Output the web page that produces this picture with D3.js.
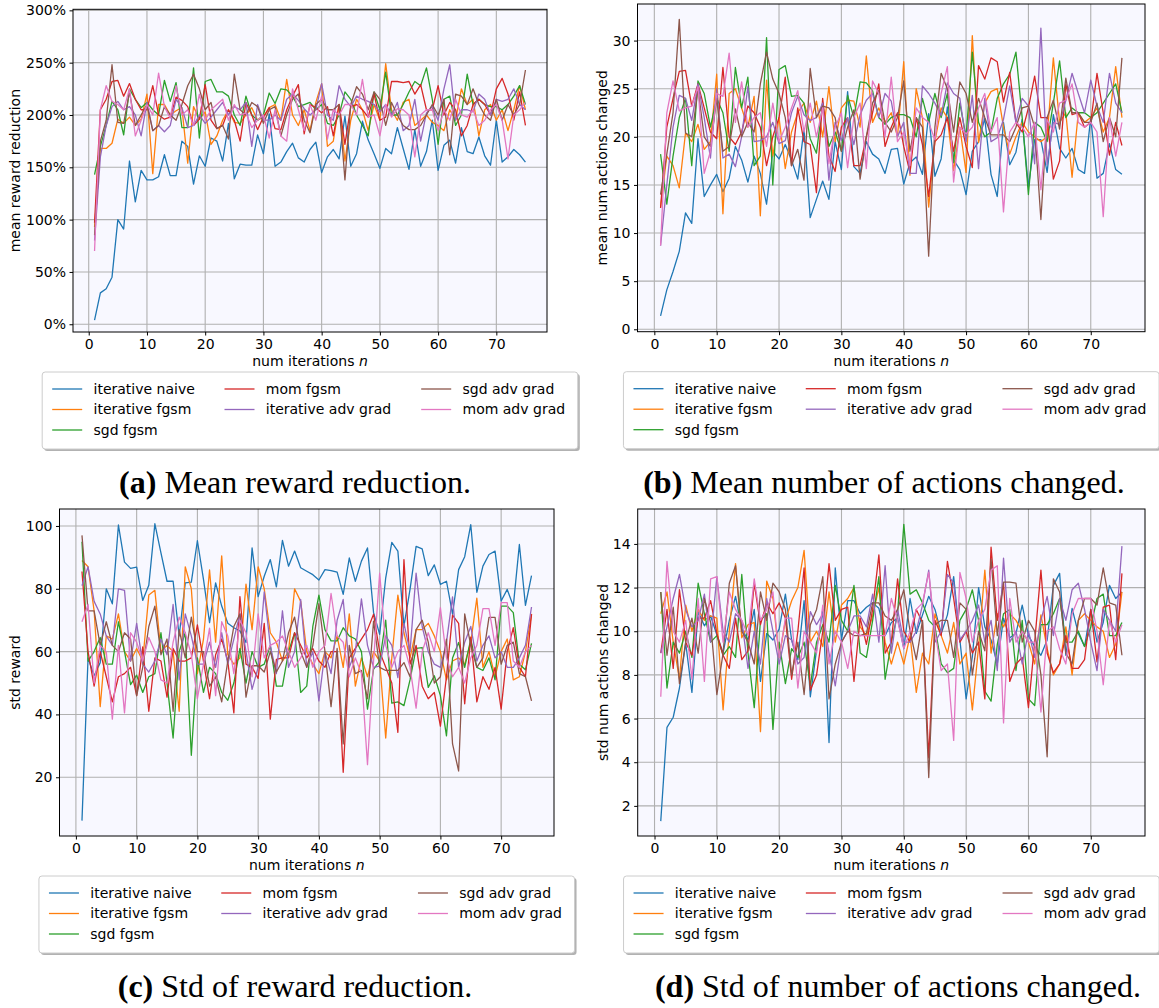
<!DOCTYPE html>
<html>
<head>
<meta charset="utf-8">
<script src="https://cdn.jsdelivr.net/npm/d3@7"></script>
<style>
  body { margin: 0; background: #fff; }
  text { font-family: "DejaVu Sans", sans-serif; }
</style>
</head>
<body>
<div id="chart"></div>
<script>
var width = 1159, height = 1008;

var seriesNames = ["iterative naive", "iterative fgsm", "sgd fgsm", "mom fgsm",
                   "iterative adv grad", "sgd adv grad", "mom adv grad"];
var colors = ["#1f77b4", "#ff7f0e", "#2ca02c", "#d62728", "#9467bd", "#8c564b", "#e377c2"];
var iters = d3.range(1, 76);
var xTicks = [0, 10, 20, 30, 40, 50, 60, 70];

// (a) mean reward reduction, in %
var meanNaive = [4,30,34,45,100,91,156,117,147,138,138,141,162,142,142,175,170,134,161,151,178,175,156,192,139,153,152,152,181,163,201,151,155,165,173,159,155,167,174,145,160,167,158,199,151,163,194,176,163,149,168,163,188,168,148,186,151,165,195,147,171,176,154,188,165,163,179,161,152,195,155,160,167,162,155];
var meanFgsm = [93,168,168,173,196,192,198,190,196,220, 144,210,210,200,204,207,154,208,196,203, 172,180,195,205,193,192,200,207,195,198, 207,210,195,234,200,190,205,185,212,230, 170,175,210,156,195,215,205,185,210,195, 249,205,195,212,215,190,195,200,193,190, 185,205,195,225,210,215,180,205,210,195, 205,185,205,228,205];
var meanSgdFgsm = [143,170,190,213,205,181,225,215,207,212, 205,200,233,213,231,188,188,245,178,232, 234,222,222,218,200,190,218,200,195,200, 221,211,225,224,218,208,210,212,205,210, 192,190,200,222,215,200,190,180,222,205, 241,200,200,210,222,232,228,245,215,172, 215,218,190,200,239,210,215,210,208,208, 205,210,218,228,210];
var meanMomFgsm = [97,205,215,232,233,218,230,215,205,205, 228,200,196,198,217,214,208,190,196,229, 195,187,190,205,195,175,212,200,186,198, 207,187,186,205,218,229,182,210,207,202, 208,180,210,172,208,210,205,198,220,195, 198,232,232,231,232,220,229,205,205,228, 200,212,205,180,190,210,215,210,200,225, 235,220,195,222,190];
var meanItAdv = [80,160,190,208,213,205,208,200,180,212, 185,190,184,190,215,207,188,190,200,192, 198,205,212,200,208,205,212,170,210,195, 195,200,195,215,220,214,206,200,205,230, 200,195,228,215,208,218,215,213,210,203, 210,200,212,185,190,215,175,202,208,195, 225,248,195,205,205,203,220,215,200,215, 213,215,225,210,205];
var meanSgdAdv = [85,175,195,248,193,192,222,190,200,210, 185,190,208,200,195,210,228,239,225,205, 212,187,190,177,239,205,200,212,208,192, 205,208,180,200,215,220,195,183,210,215, 205,205,210,138,210,227,220,205,222,215, 190,212,200,190,186,186,190,200,210,200, 215,162,220,218,210,225,210,200,195,215, 195,210,200,210,243];
var meanMomAdv = [70,205,228,213,210,205,225,180,195,210, 200,240,208,197,228,200,205,190,220,195, 205,210,215,195,210,200,202,188,195,200, 178,205,180,175,225,205,185,210,195,218, 177,205,200,210,210,200,234,198,200,180, 210,198,206,205,200,160,200,205,205,185, 205,195,215,200,198,205,190,195,205,210, 195,158,200,205,212];

// (b) mean number of actions changed
var actNaive = [1.4,4.1,6.0,8.1,12.1,11.0,19.8,13.8,15.0,16.1,14.3,15.7,19.0,17.6,15.3,18.0,16.2,13.0,18.5,17.7,19.2,17.6,15.6,20.8,11.6,13.5,15.4,13.5,19.5,16.6,24.7,16.9,16.2,19.5,18.2,17.7,16.2,18.7,18.8,15.1,17.3,17.9,16.1,22.4,15.9,17.7,23.1,17.6,16.6,14.0,18.5,19.5,21.9,16.1,13.8,21.5,17.1,18.4,21.8,14.8,19.7,19.7,16.3,22.3,18.8,17.8,18.8,16.6,16.2,22.0,15.7,16.2,19.3,16.6,16.1];
var actFgsm = [12.7,18,17,14.7,20.4,19.5,21.3,18.7,19.5,26.5, 12,24.5,25,23,21,24.2,11.8,25.9,18,22, 16.7,20.5,22.5,23.5,21.5,23.7,20,25.2,19.5,23, 23.8,23.7,21,28.4,21.5,23,21.5,22.5,20,27.8, 16,25,22,12.7,19.5,23,22,16.5,21,16.3, 30.5,19.4,23.5,24.7,25,21,18.2,20,21.5,20.5, 20,19.5,20,28.2,21.5,22.5,15.8,22.5,21.5,22, 23,20.5,22,27.3,22];
var actSgdFgsm = [18.2,13.0,18,22,24,17,25.8,24.5,21,24, 22.5,18.5,27.2,23,26.2,17,18,30.3,15,27, 27.4,24.2,24.3,23.5,19.8,18.3,23.5,19,20.5,18.5, 24.3,22,25.7,25.6,24.8,22,21.3,22,22.3,22.3, 22,20,24,21.5,24.5,22,24.5,17.3,23.5,20, 28.8,21.5,20,20.5,24,25.5,26.5,28.8,22,14, 21.5,21,19.5,23.5,27.9,22,23,22.5,22.5,22, 22.5,23.5,24.5,25.5,22.5];
var actMomFgsm = [12.6,21,24,26.8,26.9,23.2,25.5,23,20.5,19.8, 27.2,20,19.2,20.5,23.2,22.5,21,17,20,22, 26.2,17,23,19.5,19.2,14.2,24,18,16.4,21, 22,17,17,20,22.5,25.5,19,21,22.5,19, 16.3,22,19.2,13.8,19.5,20.2,22,18.5,22,19, 16.8,27.4,26,28.2,27.8,23.6,26.7,21.5,20.5,23, 26.3,22,22,15.6,17.5,25.5,22.3,22.5,21,21.5, 26.6,22.5,18.1,21.5,19.1];
var actItAdv = [8.7,15,21,24.3,24,21.7,25.5,22,17.8,25, 17.8,18.2,16.9,20,25.2,19.5,19.6,20,21.5,19.3, 19.6,22.5,24.2,22.3,21.7,22,23.5,15.5,21.5,19.6, 22,19.2,22.3,23.8,24.5,22,24.5,23.7,20,21.5, 16.2,16.2,25.3,24.5,23.5,22.2,25.6,24.5,24,19.5, 24.3,16.7,24,19.5,19.9,21.8,25.3,21.5,24,23.2, 17.2,31.3,17.1,21.5,21.3,23.8,26.6,24.5,22.5,25.9, 23.2,21.5,26.6,23.5,22.5];
var actSgdAdv = [14,18.2,22.5,32.2,20.4,20,25,20,19,24, 18.5,19,22.9,20,21.5,20.5,25.5,28.8,26,24.5, 22,17,18.7,15.5,27.1,22,23.2,23,22,18.5, 21,22.8,15.6,20,23.5,24.8,21.5,20.5,22,25.8, 18.5,22,21,7.6,21,26.6,25,20.5,25.7,24.5, 21.5,24,22,20.2,20.2,20.2,19.5,21,23,23.2, 21,11.4,22,23.8,20.8,26.1,22.5,22.5,21.5,21.5, 23.5,19.5,22,20,28.2];
var actMomAdv = [8.7,22.5,25.8,22.7,23,23.2,25.2,16.2,18.5,24.5, 24.2,28.7,21.5,25.7,21,22,22.5,19,23.5,19.5, 21,23,24.8,20.5,23.5,20,23,17.2,21,22.5, 16.8,22,23.5,16.7,25.8,24.5,20,26.2,19.5,20.5, 17,23,22,21.5,19.7,24.5,27.3,15.3,21,20.3, 21,23,24.5,20.5,22,12.2,20.5,21.5,21,20, 21.5,14.5,21.8,20.5,23.5,23.8,25.5,21.5,21,21.5, 20.5,11.7,22,18,21.5];

// (c) std reward
var stdNaive = [6.2,58,52.3,56.5,80,75.2,100.3,88.5,86.5,86.9,76.3,81.1,100.7,91.4,82.4,82.4,65,81.9,82.1,95.3,83,69.2,81.9,74.5,69,67.6,66.6,62.9,93,77.5,84,89.3,80.6,95.4,87.2,92,86.7,85.6,84.5,82.8,86.1,85.8,85.3,78.2,89.8,82.4,88.8,93,72.4,65.5,83.5,94.8,92,68.1,79.8,93.5,92.7,84.2,87.6,81.4,82.4,71.9,86.1,90.2,100.4,78.9,87.2,90.9,92,76.1,79.8,74.5,94.1,74.7,84.2];
var stdFgsm = [89,87,73,42.5,65,64,72,60,57,61, 57,78,79.5,60,62,60,41,87,80,53, 64,86,63,90.5,59,56,58,81.5,67,87, 80,66,63,57,60,80,76,60,56,53, 60,58,65,55,72,49,58,52,60,57, 32.5,58,78,66,58,67,67,69,65,60, 51,57,58,56,63,77,55,60,52,60, 64,51,52,60,72];
var stdSgdFgsm = [95,57,60,64.5,56,56,69.5,60,49.5,52.5, 47,52,53,66,50,32.5,60,66,27,58, 47,55,53,47,44.5,50,61,50,60,55, 56,62,49,49,60,66,47,49,68,78, 67,63.4,63.4,67.6,65,64,60,41.7,54.4,57, 70,43.6,44,42.8,51,61,61.3,48.6,52.3,46, 33.2,58,62.9,55,64,55,54,58,51,74.5, 74.5,72.4,56,54.2,62.6];
var stdMomFgsm = [85.5,60,49,60,52,44,52,53,55,46, 61.5,41,58,57,45.5,61,57,57,58,68.5, 57,45,59,64,57,40.5,77.5,56,55,51.5, 69,38.5,57.5,58,58,66,62,58,61,57, 55,60,60,21.6,58,61,64,67,71.9,60, 55,50,34.3,89.3,56,62,49,45,47,36.3, 52,71.6,69,43.4,64.6,44,52,48,55,41.7, 60,67.6,55,52,71.9];
var stdItAdv = [81,87,76,72,65,62,80,79.5,57,69, 56,53.5,57,64,59,75,51,72,65,56, 56,63,55,66,56,64,72,60,48,55, 79,62,53,73,55,60,76.6,55,60,44.3, 60,53,70,76.6,55,60,76.8,62,55,55.4, 65,62,51.7,69,60,85,68,60,56,55, 63,77.4,55,63,68,57,62,65,58,60, 55,55,58,62,74.2];
var stdSgdAdv = [97,73,73,62,69.5,62,60,66,64,46, 55,68,74.5,59,64,41,67,58,71,60, 60,49,52,44,57,68,72,45.5,55.5,55.5, 53.5,60,53.5,57,66,71,60,55,62,75.3, 60,42.5,61,30.6,62,53,54,45,69.7,55, 54,54,54,56.5,52,67,70,63,50,52, 64,30.6,22,72,62,55,58,70.9,70.9,56, 62,63,53,52,44.3];
var stdMomAdv = [69.5,75,50,62,60,38.5,62,40.5,66,63, 57,64.5,60,51,50,63,71,66,59,45, 56,67.5,46,69.5,65,53,70,66,52,72, 58,62,63,65,60,55,58,62,55,60, 62,78.5,65,63,52,58,53,24,57,85, 62,55,60,62,55,42,60,66,60,74, 58,52,55,50,58,62,73.7,73.7,62,75.6, 75.6,57,55,60,62];

// (d) std number of actions changed
var sdActNaive = [1.3,5.6,6.06,7.4,9.46,7.2,10.9,10.25,10.7,9.84,9.0,10.5,11.6,10.1,9.6,11.0,7.7,9.9,9.6,10.1,11.7,9.6,8.7,11.4,7.0,9.15,11.0,4.9,12.9,9.6,11.4,11.4,10.8,11.1,11.3,11.05,9.8,10.4,10.6,9.2,11.5,9.9,10.75,11.6,11.0,9.9,10.75,12.5,9.6,6.9,8.85,12.0,10.2,9.6,8.5,10.6,9.7,9.9,11.2,9.8,9.3,8.9,9.6,12.1,12.65,8.9,11.05,9.9,9.3,11.0,9.5,10.4,12.1,11.5,11.8];
var sdActFgsm = [10.8,11.8,9.5,7.8,11.2,10,11,10.5,10.7,10.6, 6.4,10,13.1,9.7,10.3,10.4,5.4,12.3,11.5,8.8, 10.5,11.4,12,13.7,9.5,10,9.3,11.8,9.5,11.2, 11.5,12,10.2,9.8,10.7,12,9.5,8.5,9.5,8.5, 9.8,7.2,9,8.5,10.8,9.8,9,10.4,8.5,9, 6.4,9.3,12.8,9,10.8,10.2,10.8,10.5,10,9.5, 8.5,10.75,9.2,8,8.5,10.2,8,10.5,10.8,10.5, 10.2,10,8.8,9.4,11.8];
var sdActSgdFgsm = [11.8,7.4,9.5,9,10,8.8,12.2,10.8,9.5,9.8, 8.9,9.3,8.8,12.6,9,6.5,10.5,10.8,5.5,9.5, 7.6,9.2,8.8,9.5,7.5,9.5,10.3,9.5,12.1,10.5, 10,12.1,9,8.8,10.5,12.5,7.8,9.5,10.8,14.9, 11.7,11.9,11.3,10.5,10.2,8.5,8.1,8.3,10.5,11, 11.9,10.5,7.25,6.8,9.4,10.8,11,8.2,10.5,6.9, 6.6,10.3,10.3,10.8,11.5,9.5,9.5,10,9.3,10.2, 11.5,11.7,9.8,9.8,10.4];
var sdActMomFgsm = [9,11,8.3,11.9,9.5,8.9,10.6,10.6,11.4,9.9, 8.9,8.3,10.6,8.7,9.1,12.2,10.3,11.3,10.8,11.3, 10.6,7.8,10,12.9,7.3,8,10,13.1,10.5,11, 11.1,7.7,10.6,9.4,11,13.5,9,9.5,12.4,10, 9.5,11,10.4,4.2,10.5,9.8,13.2,11.5,9.5,10, 9,9.5,6.9,13.85,10.5,12.2,7.7,8.5,8.8,6.5, 9.5,12.8,9,8.1,8.5,9.8,8.3,8.3,8.7,11, 8.6,11.1,11.2,8.7,12.65];
var sdActItAdv = [9,10.2,11.5,12.6,11,10.2,10.5,11.7,9.5,12.5, 10,9.5,10.8,10.5,8.3,10,8.5,11.5,10,8.5, 9.8,9.6,8.5,8.8,10.9,10.3,10.8,9,7.5,9.5, 10,10.7,10.7,10.2,11.7,9.5,13,9,11,9.5, 9.5,10,11.2,12.8,9.5,10,12.6,12.2,9.6,10, 10.5,11.2,9.5,10.5,8.2,13.35,9.5,10,8.5,10, 8.8,10.5,11.6,9.8,11.5,10.5,11.9,12.2,11,9.5, 8.2,11,10.5,10,13.9];
var sdActSgdAdv = [11.8,8.9,11.1,7.6,9.5,10.6,9,11.5,10.4,7.1, 9,12.2,13,10,9.5,8.5,11.8,10.5,12.2,11.8, 11,8,9.5,7.1,10.3,11,12.5,6.9,8.5,9.5, 10,9.8,9.8,9.9,11.3,11.3,10.7,10.5,11,11.9, 10,8.7,10.5,3.3,10.3,10.5,10.5,8.8,11.3,11, 8,10,9.1,13.3,9.8,12.25,12.25,12.2,9.5,10.5, 10,8,4.25,12.4,11.8,9,8.5,10.5,11.5,11.5, 11.2,12.9,11.3,11.2,8.9];
var sdActMomAdv = [7,13.2,10,9.5,10.5,7.8,11.5,7.7,12.4,12.5, 9.5,11.8,11,10.5,9.8,12.4,10.5,11,11.8,8.8, 10.6,10.6,7.4,10,9.5,9,11.2,8.5,10,9.5, 8.3,10,9.8,9.8,9.8,9.8,9.8,11.5,10.5,9.2, 10,11,11.3,12.7,10,8.2,8.5,5,12.7,11.5, 9.5,10.5,11,12.8,13,5.8,11.5,9.5,10,9.5, 9.5,6.3,10,10.2,9.2,8.5,10.8,11.5,11.5,11.5, 10,7.55,10.5,9.5,10.3];

var svg = d3.select("#chart")
    .append("svg")
    .attr("width", width)
    .attr("height", height);

function drawPanel(p) {
    var x = d3.scaleLinear().domain([-2.7, 78.7]).range([p.left, p.right]);
    var y = d3.scaleLinear().domain(p.yDomain).range([p.bottom, p.top]);
    var g = svg.append("g");

    g.append("rect")
        .attr("x", p.left).attr("y", p.top)
        .attr("width", p.right - p.left).attr("height", p.bottom - p.top)
        .attr("fill", "#f8f8ff");

    var clipId = "clip-" + p.id;
    g.append("clipPath").attr("id", clipId)
        .append("rect")
        .attr("x", p.left).attr("y", p.top)
        .attr("width", p.right - p.left).attr("height", p.bottom - p.top);

    // grid
    g.selectAll(".gx").data(xTicks).enter().append("line")
        .attr("x1", function (d) { return x(d); }).attr("x2", function (d) { return x(d); })
        .attr("y1", p.top).attr("y2", p.bottom)
        .attr("stroke", "#b0b0b0").attr("stroke-width", 1.1);
    g.selectAll(".gy").data(p.yTicks).enter().append("line")
        .attr("x1", p.left).attr("x2", p.right)
        .attr("y1", function (d) { return y(d); }).attr("y2", function (d) { return y(d); })
        .attr("stroke", "#b0b0b0").attr("stroke-width", 1.1);

    var line = d3.line()
        .x(function (d, i) { return x(iters[i]); })
        .y(function (d) { return y(d); });

    g.append("g").attr("clip-path", "url(#" + clipId + ")")
        .selectAll("path").data(p.series).enter().append("path")
        .attr("d", line)
        .attr("fill", "none")
        .attr("stroke", function (d, i) { return colors[i]; })
        .attr("stroke-width", 1.3)
        .attr("stroke-linejoin", "round");

    // axes
    var xAxis = g.append("g")
        .attr("transform", "translate(0," + p.bottom + ")")
        .call(d3.axisBottom(x).tickValues(xTicks).tickSize(3.5).tickPadding(3.5).tickSizeOuter(0));
    var yAxis = g.append("g")
        .attr("transform", "translate(" + p.left + ",0)")
        .call(d3.axisLeft(y).tickValues(p.yTicks).tickFormat(p.yFormat).tickSize(3.5).tickPadding(3.5).tickSizeOuter(0));
    [xAxis, yAxis].forEach(function (a) {
        a.select(".domain").remove();
        a.selectAll("line").attr("stroke", "#000").attr("stroke-width", 1);
        a.selectAll("text").attr("font-size", 14).attr("fill", "#000")
            .attr("font-family", "DejaVu Sans");
    });

    g.append("rect")
        .attr("x", p.left).attr("y", p.top)
        .attr("width", p.right - p.left).attr("height", p.bottom - p.top)
        .attr("fill", "none").attr("stroke", "#000").attr("stroke-width", 1);

    // axis labels
    var xl = g.append("text")
        .attr("x", (p.left + p.right) / 2).attr("y", p.bottom + 34)
        .attr("text-anchor", "middle").attr("font-size", 14).attr("fill", "#000");
    xl.append("tspan").text("num iterations ");
    xl.append("tspan").attr("font-style", "italic").text("n");

    g.append("text")
        .attr("transform", "translate(" + p.yLabelX + "," + (p.top + p.bottom) / 2 + ") rotate(-90)")
        .attr("text-anchor", "middle").attr("dy", "0.35em")
        .attr("font-size", 14).attr("fill", "#000")
        .text(p.yLabel);

    // legend
    var lw = 535.6, lh = 77;
    var lx = (p.left + p.right) / 2 - lw / 2, ly = p.bottom + 40;
    g.append("rect")
        .attr("x", lx + 2).attr("y", ly + 2).attr("width", lw).attr("height", lh)
        .attr("rx", 3).attr("fill", "#000").attr("opacity", 0.3);
    g.append("rect")
        .attr("x", lx).attr("y", ly).attr("width", lw).attr("height", lh)
        .attr("rx", 3).attr("fill", "#fff").attr("stroke", "#cccccc").attr("stroke-width", 1);
    var colX = [10, 182.3, 379], rowY = [17, 37.5, 58];
    var slots = [[0, 0], [0, 1], [0, 2], [1, 0], [1, 1], [2, 0], [2, 1]];
    var item = g.selectAll(".leg").data(seriesNames).enter().append("g")
        .attr("transform", function (d, i) {
            return "translate(" + (lx + colX[slots[i][0]]) + "," + (ly + rowY[slots[i][1]]) + ")";
        });
    item.append("line")
        .attr("x1", 0).attr("x2", 30).attr("y1", 0).attr("y2", 0)
        .attr("stroke", function (d, i) { return colors[i]; }).attr("stroke-width", 1.3);
    item.append("text")
        .attr("x", 41.3).attr("dy", "0.35em")
        .attr("font-size", 14).attr("fill", "#000")
        .text(function (d) { return d; });

    // caption
    var cap = g.append("text")
        .attr("x", p.capX).attr("y", p.bottom + 161)
        .attr("text-anchor", "middle")
        .attr("font-family", "Liberation Serif, serif")
        .attr("font-size", 32).attr("fill", "#000");
    cap.append("tspan").attr("font-weight", "bold").attr("font-family", "Liberation Serif, serif").text(p.capTag);
    cap.append("tspan").attr("font-family", "Liberation Serif, serif").text(" " + p.capText);
}

var pct = function (d) { return d + "%"; };
var num = function (d) { return d; };

drawPanel({
    id: "a", left: 73, right: 547, top: 9.3, bottom: 332,
    yDomain: [-7.4, 301], yTicks: [0, 50, 100, 150, 200, 250, 300], yFormat: pct,
    yLabel: "mean reward reduction", yLabelX: 15,
    series: [meanNaive, meanFgsm, meanSgdFgsm, meanMomFgsm, meanItAdv, meanSgdAdv, meanMomAdv],
    capX: 295, capTag: "(a)", capText: "Mean reward reduction."
});
drawPanel({
    id: "b", left: 637.5, right: 1145, top: 4, bottom: 331.7,
    yDomain: [-0.25, 33.8], yTicks: [0, 5, 10, 15, 20, 25, 30], yFormat: num,
    yLabel: "mean num actions changed", yLabelX: 602,
    series: [actNaive, actFgsm, actSgdFgsm, actMomFgsm, actItAdv, actSgdAdv, actMomAdv],
    capX: 884, capTag: "(b)", capText: "Mean number of actions changed."
});
drawPanel({
    id: "c", left: 59.5, right: 554, top: 509, bottom: 836,
    yDomain: [1.3, 105.4], yTicks: [20, 40, 60, 80, 100], yFormat: num,
    yLabel: "std reward", yLabelX: 15.5,
    series: [stdNaive, stdFgsm, stdSgdFgsm, stdMomFgsm, stdItAdv, stdSgdAdv, stdMomAdv],
    capX: 295, capTag: "(c)", capText: "Std of reward reduction."
});
drawPanel({
    id: "d", left: 637.7, right: 1145, top: 509, bottom: 836,
    yDomain: [0.62, 15.6], yTicks: [2, 4, 6, 8, 10, 12, 14], yFormat: num,
    yLabel: "std num actions changed", yLabelX: 603,
    series: [sdActNaive, sdActFgsm, sdActSgdFgsm, sdActMomFgsm, sdActItAdv, sdActSgdAdv, sdActMomAdv],
    capX: 898, capTag: "(d)", capText: "Std of number of actions changed."
});
</script>
</body>
</html>
